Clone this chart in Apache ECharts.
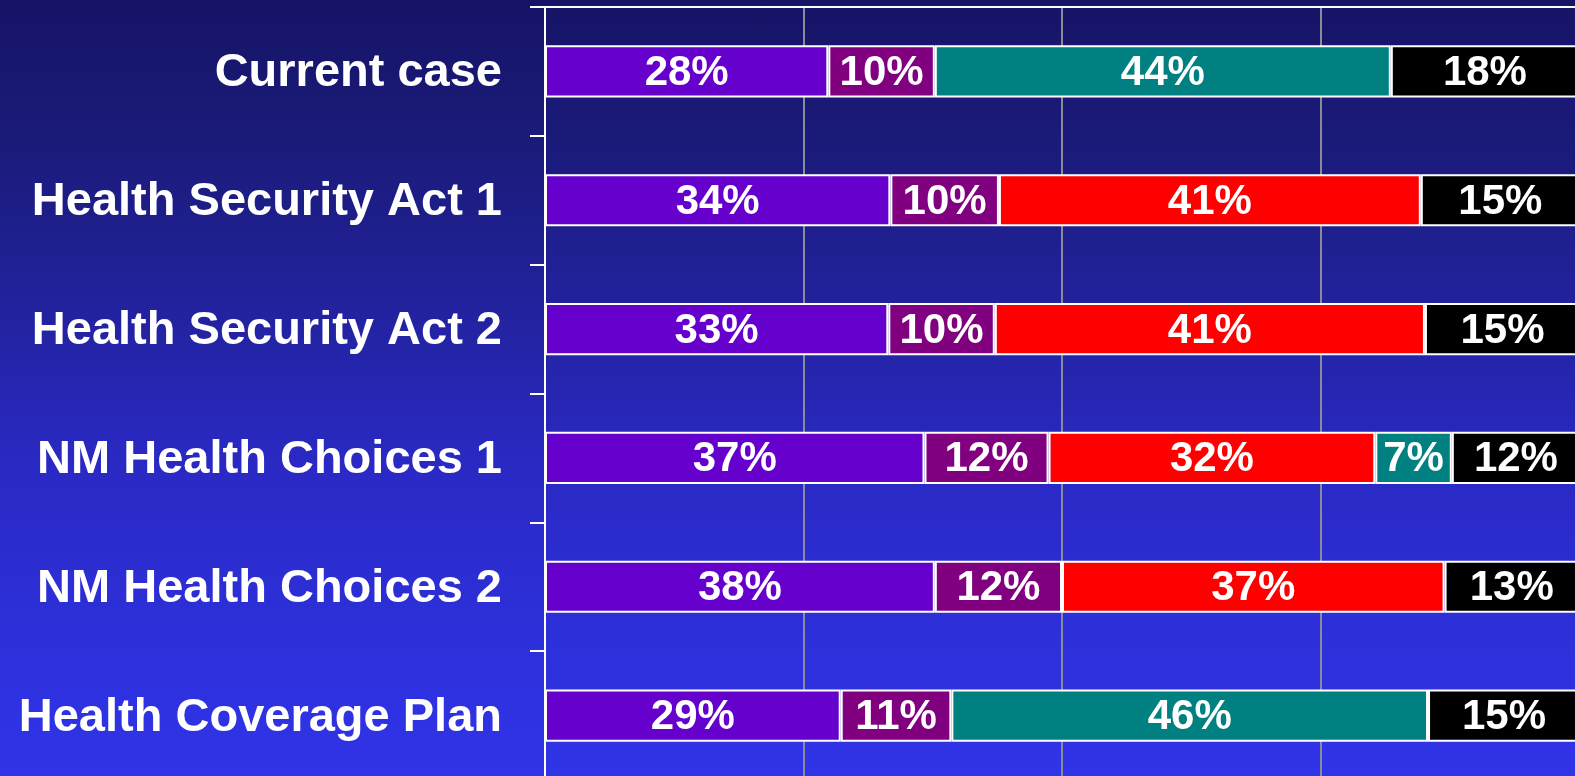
<!DOCTYPE html>
<html>
<head>
<meta charset="utf-8">
<script src="https://cdn.jsdelivr.net/npm/echarts@6/dist/echarts.min.js"></script>
<style>
    html, body { margin: 0; padding: 0; }
    body {
        width: 1575px;
        height: 776px;
        background: linear-gradient(to bottom, #161466 0%, #1b1b7c 20%, #2424a8 45%, #2a29c4 60%, #2d2fd8 80%, #3034e8 100%);
    }
    #chart { width: 1575px; height: 776px; }
</style>
</head>
<body>
<div id="chart"></div>
<script>
// scenarios, top to bottom
const categories = [
    'Current case',
    'Health Security Act 1',
    'Health Security Act 2',
    'NM Health Choices 1',
    'NM Health Choices 2',
    'Health Coverage Plan'
];

// segment lengths (%)
const purpleVals  = [27.4, 33.4, 33.2, 36.7, 37.7, 28.6];
const magentaVals = [10.3, 10.5, 10.3, 12.0, 12.3, 10.7];
const redVals     = [null, 40.8, 41.6, 31.6, 37.0, null];
const tealVals    = [44.1, null, null,  7.4, null, 46.1];
const blackVals   = [18.2, 15.4, 15.0, 12.4, 13.0, 14.7];

// printed labels on the bars
const purpleLabels  = ['28%', '34%', '33%', '37%', '38%', '29%'];
const magentaLabels = ['10%', '10%', '10%', '12%', '12%', '11%'];
const redLabels     = ['', '41%', '41%', '32%', '37%', ''];
const tealLabels    = ['44%', '', '', '7%', '', '46%'];
const blackLabels   = ['18%', '15%', '15%', '12%', '13%', '15%'];

const FONT = "'Liberation Sans', Arial, sans-serif";

function makeSeries(name, values, labels, color) {
    return {
        name: name,
        type: 'bar',
        stack: 'total',
        barWidth: '40.5%',
        data: values,
        itemStyle: {
            color: color,
            borderColor: '#ffffff',
            borderWidth: 2
        },
        label: {
            show: true,
            position: 'inside',
            offset: [0, 2],
            color: '#ffffff',
            fontFamily: FONT,
            fontWeight: 'bold',
            fontSize: 42,
            formatter: (p) => labels[p.dataIndex]
        }
    };
}

const chart = echarts.init(document.getElementById('chart'), null, { renderer: 'canvas' });

// plot runs a little past the right and bottom edges, as in the original slide
chart.setOption({
    backgroundColor: 'transparent',
    animation: false,
    grid: {
        left: 545,
        top: 7,
        width: 1034,
        height: 773,
        containLabel: false,
        outerBoundsMode: 'none'
    },
    xAxis: {
        type: 'value',
        position: 'top',
        min: 0,
        max: 100,
        interval: 25,
        axisLine: { show: true, lineStyle: { color: '#ffffff', width: 2 } },
        axisTick: { show: false },
        axisLabel: { show: false },
        splitLine: { show: true, lineStyle: { color: '#8a8a9a', width: 2 } }
    },
    yAxis: {
        type: 'category',
        inverse: true,
        data: categories,
        axisLine: { show: true, lineStyle: { color: '#ffffff', width: 2 } },
        axisTick: { show: true, length: 15, lineStyle: { color: '#ffffff', width: 2 } },
        axisLabel: {
            margin: 43,
            formatter: (v) => '{c|' + v + '}',
            rich: {
                c: {
                    color: '#ffffff',
                    fontFamily: FONT,
                    fontWeight: 'bold',
                    fontSize: 47,
                    padding: [4, 0, 0, 0]
                }
            }
        },
        z: 5
    },
    series: [
        makeSeries('purple', purpleVals, purpleLabels, '#6600cc'),
        makeSeries('magenta', magentaVals, magentaLabels, '#800080'),
        makeSeries('red', redVals, redLabels, '#ff0000'),
        makeSeries('teal', tealVals, tealLabels, '#008080'),
        makeSeries('black', blackVals, blackLabels, '#000000')
    ]
});
</script>
</body>
</html>
